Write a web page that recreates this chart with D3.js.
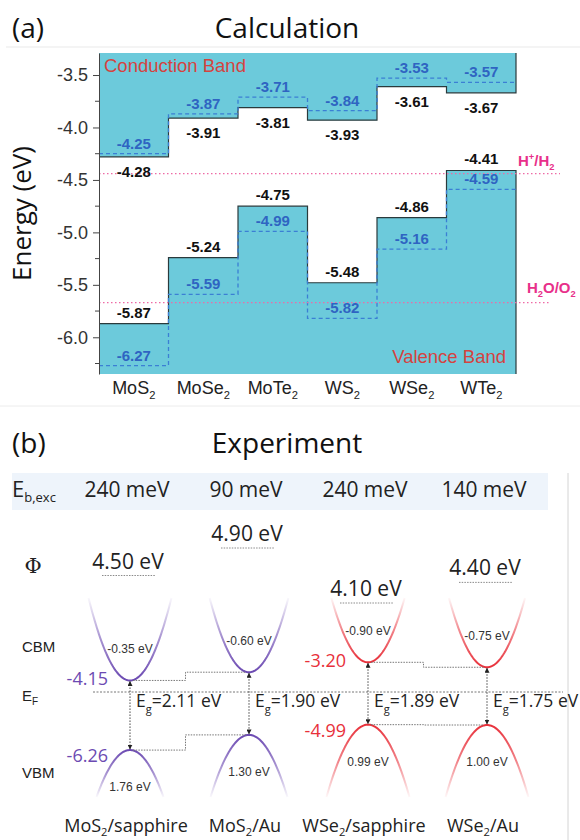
<!DOCTYPE html>
<html><head><meta charset="utf-8">
<script src="https://cdn.jsdelivr.net/npm/d3@7"></script>
<style>body{margin:0;background:#fff} svg{display:block}</style>
</head><body>
<svg id="fig" width="580" height="840"></svg>
<script>
// ---- (a) calculated band edges (eV) ----
const materials = ["MoS2", "MoSe2", "MoTe2", "WS2", "WSe2", "WTe2"];
const cbmSolid  = [-4.28, -3.91, -3.81, -3.93, -3.61, -3.67];
const vbmSolid  = [-5.87, -5.24, -4.75, -5.48, -4.86, -4.41];
const cbmDashed = [-4.25, -3.87, -3.71, -3.84, -3.53, -3.57];
const vbmDashed = [-6.27, -5.59, -4.99, -5.82, -5.16, -4.59];
const energyTicks = [-3.5, -4.0, -4.5, -5.0, -5.5, -6.0];
const minorTicks  = [-3.75, -4.25, -4.75, -5.25, -5.75, -6.25];
const redoxNames  = ["H+/H2", "H2O/O2"];
const redoxValues = [-4.44, -5.67];

// ---- (b) measured band alignment ----
const samples      = ["MoS2/sapphire", "MoS2/Au", "WSe2/sapphire", "WSe2/Au"];
const bindingMeV   = [240, 90, 240, 140];
const workFunction = [4.50, 4.90, 4.10, 4.40];
const cbmFromEF    = [-0.35, -0.60, -0.90, -0.75];   // E_F - CBM
const vbmFromEF    = [1.76, 1.30, 0.99, 1.00];       // E_F - VBM
const bandGap      = [2.11, 1.90, 1.89, 1.75];
const cbmAbsolute  = [-4.15, null, -3.20, null];
const vbmAbsolute  = [-6.26, null, -4.99, null];
const sampleColor  = ["#6c4ab2", "#6c4ab2", "#e8303a", "#e8303a"];

const svg = d3.select("#fig");
const SANS = "'Liberation Sans', Arial, sans-serif";
const OPEN = "'Open Sans', 'Noto Sans', sans-serif";

// write text with digits after letters as subscripts, "+" as superscript
function chem(sel, str, size, subShift = 0.3) {
  const parts = str.match(/[A-Za-z\/()]+|\d+|\+/g);
  let shift = 0;
  parts.forEach((p, i) => {
    const prevLetter = i > 0 && /[A-Za-z)]$/.test(parts[i - 1]);
    let target = 0;
    if (/^\d+$/.test(p) && prevLetter) target = size * subShift;
    else if (p === "+") target = -size * 0.4;
    const t = sel.append("tspan").text(p);
    if (target - shift !== 0) t.attr("dy", target - shift);
    if (target !== 0) t.attr("font-size", size * 0.62);
    shift = target;
  });
}

// faint frame lines of the figure
svg.append("line").attr("x1", 6).attr("x2", 580).attr("y1", 47).attr("y2", 47)
  .attr("stroke", "#e9e9e9");
svg.append("line").attr("x1", 0).attr("x2", 580).attr("y1", 406).attr("y2", 406)
  .attr("stroke", "#ececec");

// ================= panel (a) =================
const yA = d3.scaleLinear().domain([-3.29, -6.35]).range([53, 374]);
const xA = d3.scaleBand().domain(materials).range([99, 516]).padding(0);
const bw = xA.bandwidth();
const [plotTop, plotBottom] = yA.range();
const [plotLeft, plotRight] = xA.range();

const steps = vals => materials.flatMap((m, i) => [[xA(m), yA(vals[i])], [xA(m) + bw, yA(vals[i])]]);
const line = d3.line();
const cyan = "#6ccadb";

svg.append("text").attr("x", 12).attr("y", 38).attr("font-family", OPEN)
  .attr("font-size", 28).attr("fill", "#111").text("(a)");
svg.append("text").attr("x", 287).attr("y", 38).attr("text-anchor", "middle")
  .attr("font-family", OPEN).attr("font-size", 28).attr("fill", "#111").text("Calculation");

const gA = svg.append("g");
// conduction band region
gA.append("path").attr("d", line([[plotLeft, plotTop], ...steps(cbmSolid), [plotRight, plotTop]]) + "Z")
  .attr("fill", cyan);
// valence band region
gA.append("path").attr("d", line([[plotLeft, plotBottom], ...steps(vbmSolid), [plotRight, plotBottom]]) + "Z")
  .attr("fill", cyan);
// band edge outlines
gA.append("path").attr("d", line([...steps(cbmSolid), [plotRight, plotTop]]))
  .attr("fill", "none").attr("stroke", "#2a3a3c").attr("stroke-width", 1.2);
gA.append("path").attr("d", line([...steps(vbmSolid), [plotRight, plotBottom]]))
  .attr("fill", "none").attr("stroke", "#2a3a3c").attr("stroke-width", 1.2);
// alternative edges (dashed)
[cbmDashed, vbmDashed].forEach(vals => {
  gA.append("path").attr("d", line(steps(vals)))
    .attr("fill", "none").attr("stroke", "#3b7fd4").attr("stroke-width", 1.3)
    .attr("stroke-dasharray", "4,3");
});

// redox potentials
redoxValues.forEach((v, i) => {
  gA.append("line").attr("x1", plotLeft).attr("x2", i === 0 ? 560 : 551)
    .attr("y1", yA(v)).attr("y2", yA(v))
    .attr("stroke", "#ee6aa5").attr("stroke-width", 1.2).attr("stroke-dasharray", "1.5,2.5");
  const t = gA.append("text").attr("x", i === 0 ? 518 : 527).attr("y", yA(v) - (i === 0 ? 8 : 10))
    .attr("font-family", SANS).attr("font-weight", "bold").attr("font-size", 15)
    .attr("fill", "#e8308a");
  chem(t, redoxNames[i], 15);
});

// value labels
const valLabel = (vals, color, dy) => vals.forEach((v, i) => {
  gA.append("text").attr("x", xA(materials[i]) + bw / 2).attr("y", yA(v) + dy)
    .attr("text-anchor", "middle").attr("font-family", SANS).attr("font-weight", "bold")
    .attr("font-size", 15).attr("fill", color).text(v.toFixed(2));
});
valLabel(cbmSolid, "#111", 20);
valLabel(vbmSolid, "#111", -6);
valLabel(cbmDashed, "#2f64c2", -5);
valLabel(vbmDashed, "#2f64c2", -5);

gA.append("text").attr("x", 104).attr("y", 72).attr("font-family", SANS)
  .attr("font-size", 18.5).attr("fill", "#d6423f").text("Conduction Band");
gA.append("text").attr("x", 506).attr("y", 363).attr("text-anchor", "end")
  .attr("font-family", SANS).attr("font-size", 18.5).attr("fill", "#d6423f").text("Valence Band");

// y axis
const axisA = gA.append("g").attr("transform", `translate(${plotLeft},0)`)
  .call(d3.axisLeft(yA).tickValues(energyTicks).tickFormat(d => d.toFixed(1))
    .tickSize(6).tickSizeOuter(0).tickPadding(5));
axisA.select(".domain").attr("stroke", "#444");
axisA.selectAll(".tick line").attr("stroke", "#444");
axisA.selectAll(".tick text").attr("font-family", SANS).attr("font-size", 18).attr("fill", "#333");
axisA.selectAll(".minor").data(minorTicks).join("line").attr("class", "minor")
  .attr("x1", -4).attr("x2", 0).attr("y1", d => yA(d)).attr("y2", d => yA(d)).attr("stroke", "#444");

svg.append("text").attr("transform", `translate(31,${(plotTop + plotBottom) / 2}) rotate(-90)`)
  .attr("text-anchor", "middle").attr("font-family", OPEN).attr("font-size", 26)
  .attr("fill", "#111").text("Energy (eV)");

// category labels
materials.forEach(m => {
  const t = svg.append("text").attr("x", xA(m) + bw / 2).attr("y", 394).attr("text-anchor", "middle")
    .attr("font-family", SANS).attr("font-size", 18).attr("fill", "#222");
  chem(t, m, 18);
});

// ================= panel (b) =================
svg.append("text").attr("x", 12).attr("y", 453).attr("font-family", OPEN)
  .attr("font-size", 28).attr("fill", "#111").text("(b)");
svg.append("text").attr("x", 287).attr("y", 453).attr("text-anchor", "middle")
  .attr("font-family", OPEN).attr("font-size", 28).attr("fill", "#111").text("Experiment");

const xB = d3.scalePoint().domain(samples).range([130, 487]);
const EF_Y = 692;
// energy relative to the Fermi level
const yB = d3.scaleLinear().domain([0, -1]).range([EF_Y, EF_Y + 33]);
// vacuum level marks for each work function
const yPhi = d3.scaleLinear().domain([4.10, 4.90]).range([603, 548]);

svg.append("rect").attr("x", 12).attr("y", 473).attr("width", 536).attr("height", 37).attr("fill", "#eef4fb");
svg.append("line").attr("x1", 568).attr("x2", 568).attr("y1", 473).attr("y2", 840)
  .attr("stroke", "#d4d4d4");

const eb = svg.append("text").attr("x", 12).attr("y", 497).attr("font-family", OPEN)
  .attr("font-size", 22).attr("fill", "#222");
eb.append("tspan").text("E");
eb.append("tspan").attr("font-size", 13).attr("dy", 5).text("b,exc");

samples.forEach((s, i) => {
  svg.append("text").attr("x", xB(s) - 3).attr("y", 497).attr("text-anchor", "middle")
    .attr("font-family", OPEN).attr("font-size", 21).attr("fill", "#222").text(`${bindingMeV[i]} meV`);
});

svg.append("text").attr("x", 33).attr("y", 573).attr("text-anchor", "middle")
  .attr("font-family", "'DejaVu Serif', 'Liberation Serif', serif").attr("font-size", 21)
  .attr("fill", "#222").text("Φ");

samples.forEach((s, i) => {
  const yy = yPhi(workFunction[i]);
  svg.append("text").attr("x", xB(s) - 2).attr("y", yy - 7).attr("text-anchor", "middle")
    .attr("font-family", OPEN).attr("font-size", 21).attr("fill", "#222")
    .text(`${workFunction[i].toFixed(2)} eV`);
  svg.append("line").attr("x1", xB(s) - 28).attr("x2", xB(s) + 26).attr("y1", yy).attr("y2", yy)
    .attr("stroke", "#8a8a8a").attr("stroke-width", 1).attr("stroke-dasharray", "1.5,1.2");
});

// left row labels
svg.append("text").attr("x", 22).attr("y", 652).attr("font-family", SANS).attr("font-size", 15)
  .attr("fill", "#222").text("CBM");
svg.append("text").attr("x", 22).attr("y", 778).attr("font-family", SANS).attr("font-size", 15)
  .attr("fill", "#222").text("VBM");
const ef = svg.append("text").attr("x", 22).attr("y", 701).attr("font-family", SANS)
  .attr("font-size", 15).attr("fill", "#222");
ef.append("tspan").text("E");
ef.append("tspan").attr("font-size", 10).attr("dy", 4).text("F");

// Fermi level
svg.append("line").attr("x1", 93).attr("x2", 563).attr("y1", EF_Y).attr("y2", EF_Y)
  .attr("stroke", "#777").attr("stroke-width", 1).attr("stroke-dasharray", "2,1.5");

const defs = svg.append("defs");
defs.append("marker").attr("id", "arr").attr("viewBox", "0 0 10 10").attr("refX", 9).attr("refY", 5)
  .attr("markerWidth", 5).attr("markerHeight", 5).attr("orient", "auto-start-reverse")
  .attr("markerUnits", "userSpaceOnUse")
  .append("path").attr("d", "M0,0L10,5L0,10Z").attr("fill", "#222");

// dispersion curvature (px per px^2) and where the band arms fade out
const cbTipY = 598, vbTipY = 797;
const gB = svg.append("g");
samples.forEach((s, i) => {
  const cx = xB(s);
  const yc = yB(-cbmFromEF[i]);
  const yv = yB(-vbmFromEF[i]);
  const bands = [
    { y0: yc, dir: -1, tip: cbTipY, curv: 0.048 },
    { y0: yv, dir: 1, tip: vbTipY, curv: 0.042 }
  ];
  bands.forEach((b, j) => {
    const hw = Math.sqrt(Math.abs(b.tip - b.y0) / b.curv);
    const gid = `g${i}${j}`;
    const gr = defs.append("linearGradient").attr("id", gid).attr("gradientUnits", "userSpaceOnUse")
      .attr("x1", cx).attr("x2", cx).attr("y1", b.y0).attr("y2", b.tip);
    gr.append("stop").attr("offset", 0).attr("stop-color", sampleColor[i]).attr("stop-opacity", 1);
    gr.append("stop").attr("offset", 0.5).attr("stop-color", sampleColor[i]).attr("stop-opacity", 0.6);
    gr.append("stop").attr("offset", 1).attr("stop-color", sampleColor[i]).attr("stop-opacity", 0.04);
    const pts = d3.range(-hw, hw + 0.01, hw / 40).map(dx => [cx + dx, b.y0 + b.dir * b.curv * dx * dx]);
    gB.append("path").attr("d", line(pts)).attr("fill", "none")
      .attr("stroke", `url(#${gid})`).attr("stroke-width", 2);
  });

  // gap arrow
  gB.append("line").attr("x1", cx).attr("x2", cx).attr("y1", yc + 1).attr("y2", yv - 1)
    .attr("stroke", "#444").attr("stroke-width", 1).attr("stroke-dasharray", "1.5,1.5")
    .attr("marker-start", "url(#arr)").attr("marker-end", "url(#arr)");

  const eg = gB.append("text").attr("x", cx + 6).attr("y", 707).attr("font-family", OPEN)
    .attr("font-size", 17.5).attr("fill", "#222");
  eg.append("tspan").text("E");
  eg.append("tspan").attr("font-size", 11).attr("dy", 6).text("g");
  eg.append("tspan").attr("dy", -6).text(`=${bandGap[i].toFixed(2)} eV`);

  gB.append("text").attr("x", cx).attr("y", yc - 27).attr("text-anchor", "middle")
    .attr("font-family", SANS).attr("font-size", 12).attr("fill", "#333")
    .text(`${cbmFromEF[i].toFixed(2)} eV`);
  gB.append("text").attr("x", cx).attr("y", yv + 41).attr("text-anchor", "middle")
    .attr("font-family", SANS).attr("font-size", 12).attr("fill", "#333")
    .text(`${vbmFromEF[i].toFixed(2)} eV`);

  if (cbmAbsolute[i] !== null) {
    gB.append("text").attr("x", cx - 22).attr("y", yc + 5).attr("text-anchor", "end")
      .attr("font-family", OPEN).attr("font-size", 18).attr("fill", sampleColor[i])
      .text(cbmAbsolute[i].toFixed(2));
    gB.append("text").attr("x", cx - 22).attr("y", yv + 12).attr("text-anchor", "end")
      .attr("font-family", OPEN).attr("font-size", 18).attr("fill", sampleColor[i])
      .text(vbmAbsolute[i].toFixed(2));
  }

  const lab = gB.append("text").attr("x", cx - 4).attr("y", 832).attr("text-anchor", "middle")
    .attr("font-family", OPEN).attr("font-size", 18).attr("fill", "#222");
  chem(lab, s, 18, 0.2);
});

// step connectors between sapphire and Au substrates
[[0, 1], [2, 3]].forEach(([a, b]) => {
  const xa = xB(samples[a]), xb = xB(samples[b]), xm = (xa + xb) / 2 - 4;
  [[-cbmFromEF[a], -cbmFromEF[b]], [-vbmFromEF[a], -vbmFromEF[b]]].forEach(([ea, eb2]) => {
    gB.append("path")
      .attr("d", `M${xa + 3},${yB(ea)}H${xm}V${yB(eb2)}H${xb - 3}`)
      .attr("fill", "none").attr("stroke", "#777").attr("stroke-width", 1)
      .attr("stroke-dasharray", "1.5,1.2");
  });
});
</script>
</body></html>
